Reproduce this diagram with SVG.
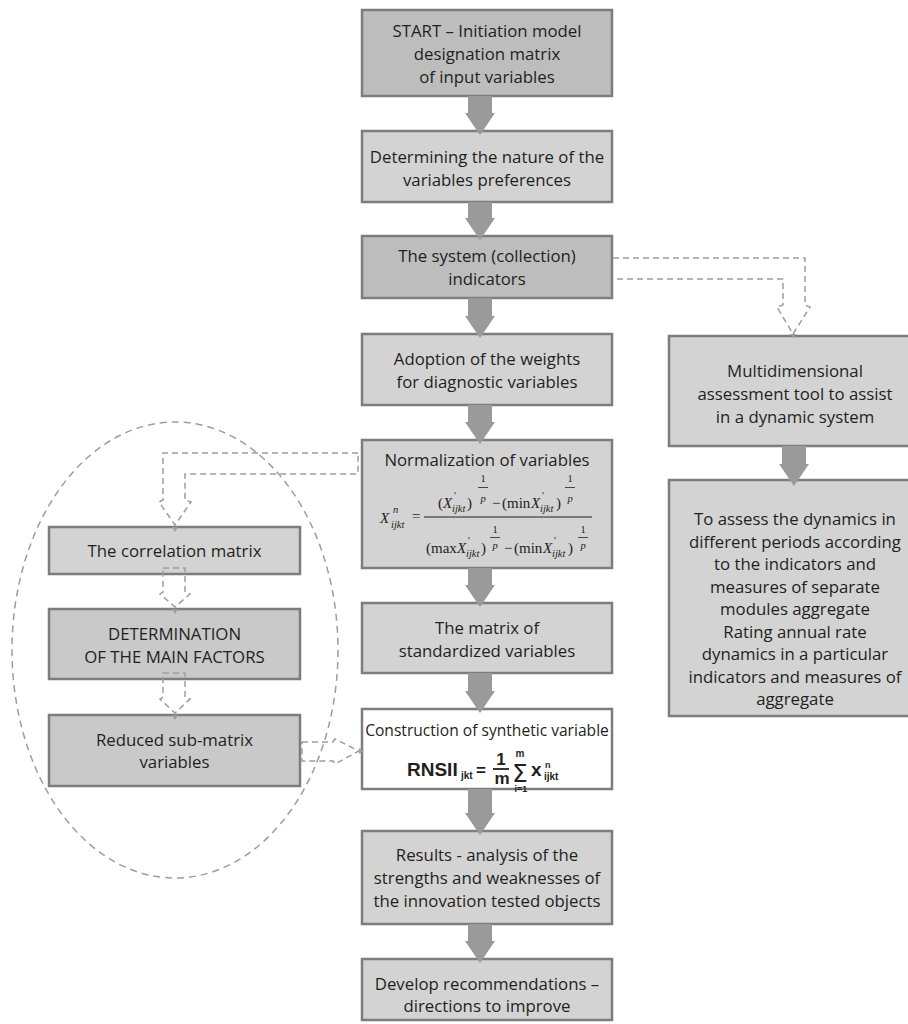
<svg xmlns="http://www.w3.org/2000/svg" width="908" height="1024" viewBox="0 0 908 1024">
<defs>
<style>
.box{stroke:#7d7d7d;stroke-width:2.5}
.dk{fill:#bdbdbd}
.lt{fill:#d3d3d3}
.md{fill:#c9c9c9}
.wh{fill:#ffffff}
.t{font-family:"Open Sans","Liberation Sans",sans-serif;font-size:16.8px;fill:#231f20;text-anchor:middle}
.m{font-family:"Liberation Serif","Times New Roman",serif;font-size:15px;fill:#231f20}
.mi{font-style:italic}
.ms{font-size:10.5px}
.f{font-family:"Liberation Sans",Arial,sans-serif;font-weight:bold;fill:#231f20}
.arr{fill:#9a9a9a}
.dash{fill:none;stroke:#9d9d9d;stroke-width:1.5;stroke-dasharray:6 4}
.tip{fill:#9d9d9d}
</style>
</defs>
<rect width="908" height="1024" fill="#ffffff"/>

<ellipse id="group-ellipse" cx="175" cy="650" rx="163" ry="228" fill="none" stroke="#9d9d9d" stroke-width="1.5" stroke-dasharray="7 5"/>

<g id="n-start">
<rect class="box dk" x="362" y="10" width="250" height="86"/>
<text class="t" x="487" y="37">START – Initiation model</text>
<text class="t" x="487" y="60">designation matrix</text>
<text class="t" x="487" y="83">of input variables</text>
</g>
<g id="n-nature">
<rect class="box lt" x="362" y="131" width="250" height="71"/>
<text class="t" x="487" y="162.5">Determining the nature of the</text>
<text class="t" x="487" y="185.5">variables preferences</text>
</g>
<g id="n-system">
<rect class="box dk" x="362" y="236" width="250" height="62"/>
<text class="t" x="487" y="262">The system (collection)</text>
<text class="t" x="487" y="285">indicators</text>
</g>
<g id="n-weights">
<rect class="box lt" x="362" y="334" width="250" height="71"/>
<text class="t" x="487" y="365">Adoption of the weights</text>
<text class="t" x="487" y="388">for diagnostic variables</text>
</g>
<g id="n-normalization">
<rect class="box lt" x="362" y="440" width="250" height="128"/>
<text class="t" x="487" y="466">Normalization of variables</text>
<g class="m">
<text class="mi" x="380" y="523">X</text>
<text class="mi ms" x="393" y="513">n</text>
<text class="mi ms" x="391" y="528">ijkt</text>
<text x="412" y="521">=</text>
<line x1="424" y1="517" x2="592" y2="517" stroke="#231f20" stroke-width="1"/>
<text x="438" y="508">(</text>
<text class="mi" x="443" y="508">X</text>
<text class="ms" x="454" y="499">'</text>
<text class="mi ms" x="452" y="512">ijkt</text>
<text x="467" y="508">)</text>
<text class="ms" x="483" y="482" text-anchor="middle">1</text>
<line x1="478" y1="487.5" x2="488" y2="487.5" stroke="#231f20" stroke-width="0.8"/>
<text class="mi ms" x="483" y="502" text-anchor="middle">p</text>
<text x="492" y="508">−</text>
<text x="502" y="508">(min</text>
<text class="mi" x="531" y="508">X</text>
<text class="ms" x="542" y="499">'</text>
<text class="mi ms" x="540" y="512">ijkt</text>
<text x="556" y="508">)</text>
<text class="ms" x="570" y="482" text-anchor="middle">1</text>
<line x1="565" y1="487.5" x2="575" y2="487.5" stroke="#231f20" stroke-width="0.8"/>
<text class="mi ms" x="570" y="502" text-anchor="middle">p</text>
<text x="426" y="553">(max</text>
<text class="mi" x="457" y="553">X</text>
<text class="ms" x="468" y="544">'</text>
<text class="mi ms" x="466" y="557">ijkt</text>
<text x="481" y="553">)</text>
<text class="ms" x="495" y="533" text-anchor="middle">1</text>
<line x1="490" y1="537.5" x2="500" y2="537.5" stroke="#231f20" stroke-width="0.8"/>
<text class="mi ms" x="495" y="549" text-anchor="middle">p</text>
<text x="504" y="553">−</text>
<text x="514" y="553">(min</text>
<text class="mi" x="543" y="553">X</text>
<text class="ms" x="554" y="544">'</text>
<text class="mi ms" x="552" y="557">ijkt</text>
<text x="568" y="553">)</text>
<text class="ms" x="583" y="533" text-anchor="middle">1</text>
<line x1="578" y1="537.5" x2="588" y2="537.5" stroke="#231f20" stroke-width="0.8"/>
<text class="mi ms" x="583" y="549" text-anchor="middle">p</text>
</g>
</g>
<g id="n-standardized">
<rect class="box lt" x="362" y="603" width="250" height="70"/>
<text class="t" x="487" y="634">The matrix of</text>
<text class="t" x="487" y="657">standardized variables</text>
</g>
<g id="n-synthetic">
<rect class="box wh" x="362" y="709" width="250" height="80"/>
<text class="t" x="487" y="736" style="font-size:15.6px">Construction of synthetic variable</text>
<text class="f" x="407" y="776" font-size="19">RNSII</text>
<text class="f" x="461" y="779" font-size="10">jkt</text>
<text class="f" x="476" y="776" font-size="17">=</text>
<text class="f" x="501" y="765" font-size="17" text-anchor="middle">1</text>
<line x1="493" y1="769" x2="509" y2="769" stroke="#231f20" stroke-width="1.8"/>
<text class="f" x="502" y="784" font-size="17" text-anchor="middle">m</text>
<text x="520" y="782" font-family="DejaVu Sans, Liberation Sans, sans-serif" font-size="25" fill="#231f20" text-anchor="middle">Σ</text>
<text class="f" x="520" y="757" font-size="10" text-anchor="middle">m</text>
<text class="f" x="521" y="792" font-size="9" text-anchor="middle">i=1</text>
<text class="f" x="531" y="776" font-size="19">x</text>
<text class="f" x="545" y="768" font-size="9">n</text>
<text class="f" x="544" y="780" font-size="10">ijkt</text>
</g>
<g id="n-results">
<rect class="box lt" x="362" y="831" width="250" height="93"/>
<text class="t" x="487" y="861">Results - analysis of the</text>
<text class="t" x="487" y="884">strengths and weaknesses of</text>
<text class="t" x="487" y="907">the innovation tested objects</text>
</g>
<g id="n-recommend">
<rect class="box lt" x="362" y="959" width="250" height="61"/>
<text class="t" x="487" y="990">Develop recommendations –</text>
<text class="t" x="487" y="1012">directions to improve</text>
</g>

<g id="n-multidim">
<rect class="box lt" x="669" y="336" width="262" height="110"/>
<text class="t" x="795" y="377">Multidimensional</text>
<text class="t" x="795" y="400">assessment tool to assist</text>
<text class="t" x="795" y="423">in a dynamic system</text>
</g>
<g id="n-assess">
<rect class="box lt" x="669" y="480" width="262" height="236"/>
<text class="t" x="795" y="525">To assess the dynamics in</text>
<text class="t" x="795" y="547.5">different periods according</text>
<text class="t" x="795" y="570">to the indicators and</text>
<text class="t" x="795" y="592.5">measures of separate</text>
<text class="t" x="795" y="615">modules aggregate</text>
<text class="t" x="795" y="637.5">Rating annual rate</text>
<text class="t" x="795" y="660">dynamics in a particular</text>
<text class="t" x="795" y="682.5">indicators and measures of</text>
<text class="t" x="795" y="705">aggregate</text>
</g>

<g id="n-correlation">
<rect class="box lt" x="49" y="527" width="251" height="47"/>
<text class="t" x="174.5" y="557">The correlation matrix</text>
</g>
<g id="n-factors">
<rect class="box md" x="49" y="609" width="251" height="70"/>
<text class="t" x="174.5" y="640">DETERMINATION</text>
<text class="t" x="174.5" y="663">OF THE MAIN FACTORS</text>
</g>
<g id="n-reduced">
<rect class="box md" x="49" y="715" width="251" height="71"/>
<text class="t" x="174.5" y="746">Reduced sub-matrix</text>
<text class="t" x="174.5" y="768">variables</text>
</g>

<g id="connectors">
<path class="arr" d="M468,96 H492 V113 H495 L480,135 L465,113 H468 Z"/>
<path class="arr" d="M468,202 H492 V218 H495 L480,240 L465,218 H468 Z"/>
<path class="arr" d="M468,298 H492 V316 H495 L480,338 L465,316 H468 Z"/>
<path class="arr" d="M468,405 H492 V422 H495 L480,444 L465,422 H468 Z"/>
<path class="arr" d="M468,568 H492 V585 H495 L480,607 L465,585 H468 Z"/>
<path class="arr" d="M468,673 H492 V691 H495 L480,713 L465,691 H468 Z"/>
<path class="arr" d="M468,789 H492 V813 H495 L480,835 L465,813 H468 Z"/>
<path class="arr" d="M468,924 H492 V941 H495 L480,963 L465,941 H468 Z"/>
<path class="arr" d="M782,446 H806 V464 H809 L794,486 L779,464 H782 Z"/>

<path class="dash" d="M613,258 H805 V305 L810,307 L793,334 L777,307 L783,305 V279 H613"/>
<polygon class="tip" points="790,334 796,334 793,338"/>
<path class="dash" d="M358,453 H163 V500 L159,502 L175,525 L191,502 L185,500 V474 H358 Z"/>
<polygon class="tip" points="172,527 178,527 175,532"/>
<path class="dash" d="M163,568 H185 V592 L190,594 L175,607 L160,594 L163,592 Z"/>
<polygon class="tip" points="172,609 178,609 175,614"/>
<path class="dash" d="M163,673 H185 V697 L190,699 L175,713 L160,699 L163,697 Z"/>
<polygon class="tip" points="172,715 178,715 175,720"/>
<path class="dash" d="M302,742 H333 L335,739 L359,751 L335,764 L333,761 H302 Z"/>
<polygon class="tip" points="359,748 359,754 364,751"/>
</g>
</svg>
